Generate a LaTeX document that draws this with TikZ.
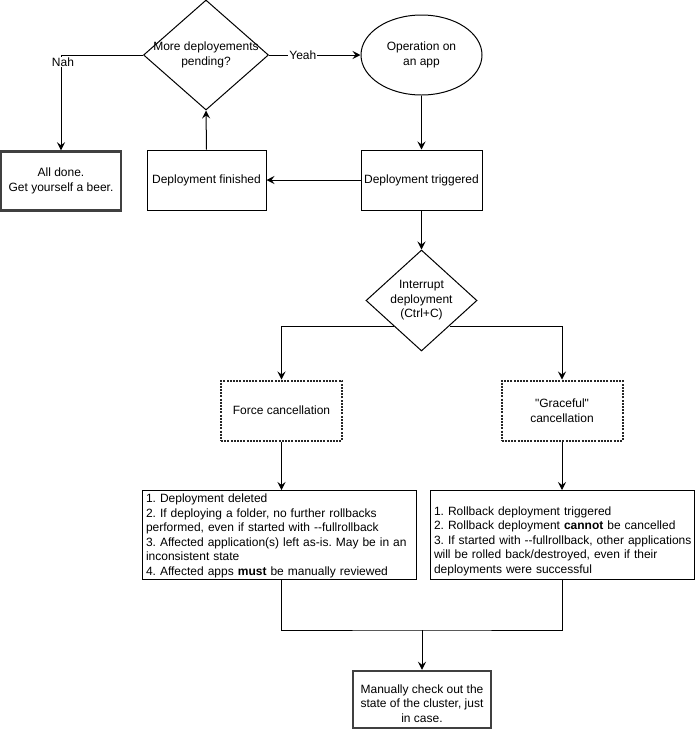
\documentclass[tikz,border=0pt]{standalone}
\usepackage{fontspec}
\setmainfont{Liberation Sans}[Ligatures=TeXOff]
\usepackage{tikz}
\usetikzlibrary{arrows.meta}
\usetikzlibrary{positioning}
\usetikzlibrary{shapes.geometric}
\tikzset{
  fcnode/.style = {align=center, inner sep=0pt, text centered, draw=black},
  fc_box/.style = {fcnode, rectangle, minimum width=120pt,
    minimum height=60pt},% plain step
  fc_end/.style = {fc_box, draw=black!75, line width=2.5pt},% end of the flow
  fc_dot/.style = {fc_box, draw=black!85, line width=2pt,
    dash pattern=on 2pt off 1.2pt},% cancellation kind
  fc_ell/.style = {fcnode, ellipse, minimum width=121pt,
    minimum height=80pt},% start
  fc_dia/.style = {fcnode, diamond},% question
  fc_txt/.style = {fcnode, rectangle, minimum height=89pt},% list of consequences
  fc_lst/.style = {align=left, inner sep=0pt,
    execute at begin node={\frenchspacing\hyphenpenalty=10000\relax}},% its text
  fc_lbl/.style = {fill=white, inner sep=1pt}% edge label
}

\begin{document}
\begin{tikzpicture}[->,>={Stealth[length=8pt,width=8pt,inset=3pt]},
  x=1pt, y=-1pt, line width=1pt, font=\fontsize{12}{14.5}\selectfont]
\useasboundingbox (0,0) rectangle (697,732);

\node [fc_dia, minimum width=125pt, minimum height=110pt,
  label={[align=center]center:More deployements\\pending?}] (more) at (206,55) {};
\node [fc_ell] (op) at (421.5,55) {Operation on\\an app};
\node [fc_end, minimum width=120pt, minimum height=59pt] (done) at (61,181)
  {All done.\\Get yourself a beer.};
\node [fc_box, minimum width=119pt] (fin) at (206.5,180) {Deployment finished};
\node [fc_box, minimum width=121pt] (trig) at (421.5,180) {Deployment triggered};

\node [fc_dia, minimum width=111pt, minimum height=101pt,
  label={[align=center]center:Interrupt\\deployment\\(Ctrl+C)}] (intr) at (421.5,300.5) {};
\node [fc_dot, minimum width=121pt] (force) at (281.5,410.5) {Force cancellation};
\node [fc_dot, minimum width=121pt] (grace) at (562,410.5) {"Graceful"\\cancellation};

\node [fc_txt, minimum width=274pt, label={[fc_lst, text width=266pt, yshift=-1pt]center:
   1. Deployment deleted\\
   2. If deploying a folder, no further rollbacks\\
   \mbox{performed, even if started with --fullrollback}\\
   \mbox{3. Affected application(s) left as-is. May be in an}\\
   inconsistent state\\
   \mbox{4. Affected apps \textbf{must} be manually reviewed}}] (list1) at (279,535) {};
\node [fc_txt, minimum width=264pt, label={[fc_lst, text width=256pt, yshift=-6pt]center:
   1. Rollback deployment triggered\\
   \mbox{2. Rollback deployment \textbf{cannot} be cancelled}\\
   \mbox{3. If started with --fullrollback, other applications}\\
   will be rolled back/destroyed, even if their\\
   deployments were successful}] (list2) at (562,535) {};
\node [fc_end, minimum width=138pt, minimum height=57pt,
  label={[align=center, yshift=-4pt]center:Manually check out the\\
   state of the cluster, just\\in case.}] (check) at (422,699.5) {};
\coordinate (join) at (422,630);

\draw (more.west) -| node [fc_lbl, pos=0.5, xshift=2pt, yshift=-7pt] {Nah} (done.north);
\draw (more.east) -- node [fc_lbl, pos=0.37] {Yeah} (op.west);
\draw (op.south) -- (trig.north);
\draw (trig.west) -- (fin.east);
\draw (fin.north) -- (more.south);
\draw (trig.south) -- (intr.north);
\draw (intr.south west) -| (force.north);
\draw (intr.south east) -| (grace.north);
\draw (force.south) -- (force.south |- list1.north);
\draw (grace.south) -- (grace.south |- list2.north);
\draw [-] (force.south |- list1.south) |- (join) -| (grace.south |- list2.south);
\draw (join) -- (check.north);
\end{tikzpicture}
\end{document}
